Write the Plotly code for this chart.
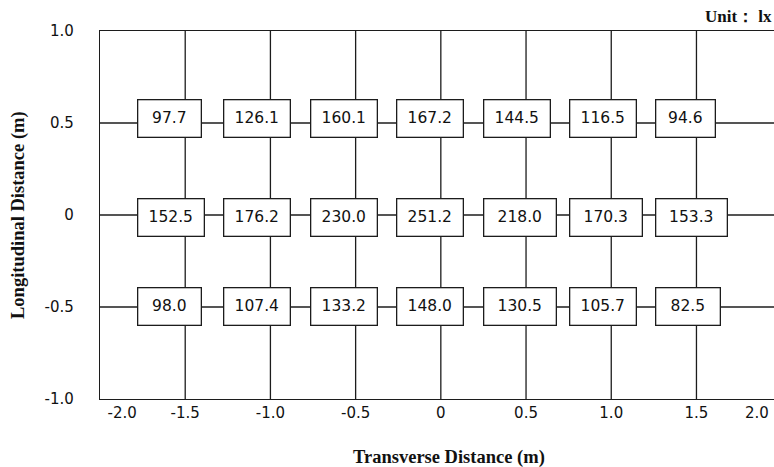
import plotly.graph_objects as go

# ---- data ----
transverse = [-1.5, -1.0, -0.5, 0.0, 0.5, 1.0, 1.5]          # m
longitudinal = [0.5, 0.0, -0.5]                               # m
illuminance = [
    [97.7, 126.1, 160.1, 167.2, 144.5, 116.5, 94.6],
    [152.5, 176.2, 230.0, 251.2, 218.0, 170.3, 153.3],
    [98.0, 107.4, 133.2, 148.0, 130.5, 105.7, 82.5],
]
x_tick_values = [-2.0, -1.5, -1.0, -0.5, 0.0, 0.5, 1.0, 1.5, 2.0]
x_tick_labels = ["-2.0", "-1.5", "-1.0", "-0.5", "0", "0.5", "1.0", "1.5", "2.0"]
y_tick_values = [1.0, 0.5, 0.0, -0.5, -1.0]
y_tick_labels = ["1.0", "0.5", "0", "-0.5", "-1.0"]

# ---- style ----
X_RANGE = [-2.0, 1.955]
Y_RANGE = [-1.0, 1.0]
LINE = "#1c1c1c"
LW = 1.3
box_widths = [
    [63, 66, 66, 66, 66, 66, 59],
    [66, 66, 66, 66, 72, 72, 71],
    [63, 66, 66, 66, 72, 66, 64],
]
row_yshift = [5, -2, 1]
BOX_H = 37
SANS = "DejaVu Sans"
SERIF = "Liberation Serif"

fig = go.Figure()

# grid lines through the measurement points
gx, gy = [], []
for x in transverse:
    gx += [x, x, None]
    gy += [Y_RANGE[0], Y_RANGE[1], None]
for y in longitudinal:
    gx += [X_RANGE[0], X_RANGE[1], None]
    gy += [y, y, None]
fig.add_trace(go.Scatter(x=gx, y=gy, mode="lines",
                         line=dict(color=LINE, width=LW),
                         hoverinfo="skip", showlegend=False))

# value boxes
for r, y in enumerate(longitudinal):
    for c, x in enumerate(transverse):
        fig.add_annotation(
            x=x, y=y, xref="x", yref="y",
            text=f"{illuminance[r][c]:.1f}",
            showarrow=False,
            xanchor="left", yanchor="middle",
            xshift=-44.6 + 1.2 * (c - 3),
            yshift=row_yshift[r],
            width=box_widths[r][c] - 1, height=BOX_H - 1,
            align="center", valign="middle",
            bgcolor="white", bordercolor=LINE, borderwidth=LW, borderpad=0,
            font=dict(family=SANS, size=15.5, color="#111"),
        )

tick_pos = [max(min(v, 1.855), -1.87) for v in x_tick_values]

fig.update_xaxes(range=X_RANGE, showgrid=False, zeroline=False,
                 showline=True, mirror=True, linecolor=LINE, linewidth=LW,
                 tickmode="array", tickvals=tick_pos, ticktext=x_tick_labels,
                 ticks="", tickfont=dict(family=SANS, size=15, color="#111"),
                 fixedrange=True)
fig.update_yaxes(range=Y_RANGE, showgrid=False, zeroline=False,
                 showline=True, mirror=False, linecolor=LINE, linewidth=LW,
                 tickmode="array", tickvals=y_tick_values, ticktext=y_tick_labels,
                 ticks="", ticklabelstandoff=22,
                 tickfont=dict(family=SANS, size=15, color="#111"),
                 fixedrange=True)

# titles
fig.add_annotation(text="<b>Transverse Distance (m)</b>", xref="paper", yref="paper",
                   x=(449 - 100) / 674, y=-(457 - 399) / 368, showarrow=False,
                   xanchor="center", yanchor="middle",
                   font=dict(family=SERIF, size=18.5, color="#111"))
fig.add_annotation(text="<b>Longitudinal Distance (m)</b>", xref="paper", yref="paper",
                   x=-(100 - 18) / 674, y=0.5, showarrow=False, textangle=-90,
                   xanchor="center", yanchor="middle",
                   font=dict(family=SERIF, size=18.5, color="#111"))
fig.add_annotation(text="<b>Unit： lx</b>", xref="paper", yref="paper",
                   x=1.0, y=1 + (31 - 17) / 368, showarrow=False,
                   xanchor="right", yanchor="middle",
                   font=dict(family=SERIF, size=17, color="#111"))

fig.update_layout(width=774, height=467,
                  margin=dict(l=100, r=0, t=31, b=68),
                  paper_bgcolor="white", plot_bgcolor="white",
                  showlegend=False)

fig.write_html("out.html")
